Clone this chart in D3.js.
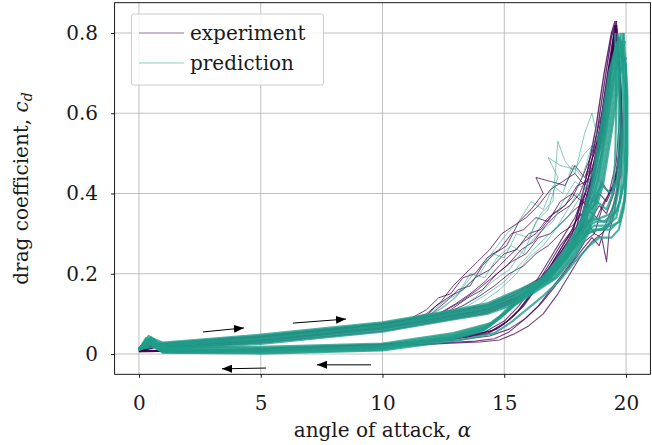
<!DOCTYPE html>
<html lang="en">
<head>
<meta charset="UTF-8">
<title>Drag coefficient hysteresis</title>
<style>
    body { margin: 0; background: #fff; }
    svg { display: block; font-family: "DejaVu Serif", serif; }
</style>
</head>
<body>
<svg id="chart" width="652" height="445"></svg>
<script src="https://cdn.jsdelivr.net/npm/d3@7/dist/d3.min.js"></script>
<script>
const xTicks = [0, 5, 10, 15, 20];
const yTicks = [0, 0.2, 0.4, 0.6, 0.8];

// measured cycles, [angle of attack, cd]
// attached upstrokes
const experimentUp = [
  [[0,.008],[0.5,.02],[1,.022],[5,.038],[10,.068],[12.9,.097],[14.3,.112],[15.6,.145],[16.7,.19],[17.4,.24],[18,.3],[18.5,.42],[18.9,.55],[19.2,.68],[19.45,.78],[19.6,.83]],
  [[0,.006],[0.4,.018],[1,.025],[5,.042],[10,.073],[12.9,.103],[14.3,.118],[15.6,.152],[16.6,.19],[17.3,.24],[17.9,.3],[18.4,.42],[18.8,.55],[19.15,.69],[19.4,.79],[19.55,.82]],
  [[0,.01],[0.5,.022],[1,.018],[5,.032],[10,.062],[12.9,.092],[14.3,.106],[15.6,.138],[16.8,.19],[17.5,.24],[18.1,.3],[18.6,.42],[19,.55],[19.3,.68],[19.5,.77],[19.62,.81]],
  [[0,.009],[0.4,.017],[1,.015],[5,.028],[10,.057],[12.9,.088],[14.3,.102],[15.6,.134],[16.9,.19],[17.6,.245],[18.2,.31],[18.65,.43],[19.05,.56],[19.35,.7],[19.55,.79],[19.65,.8]],
  [[0,.007],[0.6,.025],[1,.027],[5,.045],[10,.076],[12,.092],[12.9,.106],[14.3,.122],[15.6,.158],[16.5,.19],[17.2,.24],[17.8,.3],[18.3,.42],[18.75,.56],[19.1,.7],[19.4,.8],[19.55,.83]],
  [[0,.01],[0.5,.02],[1,.02],[5,.035],[10,.065],[12.9,.095],[14.3,.11],[15.6,.142],[16.75,.19],[17.45,.24],[18.05,.3],[18.55,.42],[18.95,.55],[19.25,.67],[19.5,.78],[19.6,.82]]
];
// upstrokes with early stall
const experimentStall = [
  [[0,.006],[1,.024],[5,.04],[10,.072],[11,.085],[11.8,.1],[12.4,.13],[12.9,.17],[13.4,.2],[13.9,.23],[14.4,.26],[14.9,.3],[15.4,.32],[15.9,.34],[16.4,.37],[16.9,.41],[17.4,.43],[17.9,.45],[18.3,.42],[18.7,.47],[19,.56],[19.3,.7],[19.55,.82]],
  [[0,.007],[1,.026],[5,.042],[10,.075],[11.2,.09],[11.8,.11],[12.3,.14],[12.8,.15],[13.3,.19],[13.8,.2],[14.3,.24],[14.8,.26],[15.3,.3],[15.8,.31],[16.3,.34],[16.8,.33],[17.3,.38],[17.8,.4],[18.2,.38],[18.6,.44],[19,.52],[19.3,.65],[19.5,.78],[19.65,.8]],
  [[0,.008],[1,.023],[5,.039],[10,.07],[11.5,.085],[12.3,.1],[13,.125],[13.6,.15],[14.2,.18],[14.8,.22],[15.3,.25],[15.8,.28],[16.3,.3],[16.8,.34],[17.3,.36],[17.8,.39],[18.2,.44],[18.6,.5],[19,.6],[19.3,.72],[19.55,.8]],
  [[0,.006],[1,.021],[5,.037],[10,.067],[11.3,.08],[12,.1],[12.6,.13],[13.1,.16],[13.6,.17],[14.1,.22],[14.6,.25],[15.1,.27],[15.6,.33],[16.1,.36],[16.6,.4],[16.3,.44],[16.9,.43],[17.5,.42],[17.9,.47],[18.3,.44],[18.7,.5],[19.1,.62],[19.4,.75],[19.6,.82]],
  [[0,.008],[1,.022],[5,.038],[10,.069],[11.6,.088],[12.5,.105],[13.2,.13],[13.9,.16],[14.5,.19],[15.1,.22],[15.7,.26],[16.2,.28],[16.7,.32],[17.2,.35],[17.7,.37],[18.1,.4],[18.5,.46],[18.9,.55],[19.2,.67],[19.5,.8]],
  [[0,.009],[1,.02],[5,.035],[10,.066],[12,.09],[12.8,.11],[13.5,.14],[14.1,.16],[14.7,.2],[15.3,.23],[15.9,.25],[16.4,.29],[16.9,.3],[17.4,.33],[17.9,.36],[18.3,.38],[18.7,.45],[19.05,.56],[19.35,.7],[19.55,.8]],
  [[0,.007],[1,.024],[5,.04],[10,.071],[11.8,.095],[12.2,.12],[12.8,.145],[13.3,.16],[13.8,.19],[14.4,.21],[15,.25],[15.5,.26],[16,.3],[16.5,.31],[17,.35],[17.5,.37],[18,.42],[18.4,.43],[18.8,.5],[19.2,.64],[19.45,.76],[19.6,.81]],
  [[0,.008],[1,.022],[5,.038],[10,.068],[12.5,.1],[13.3,.12],[14,.145],[14.6,.17],[15.2,.2],[15.8,.22],[16.3,.25],[16.8,.27],[17.3,.3],[17.8,.32],[18.2,.35],[18.6,.4],[19,.5],[19.3,.64],[19.55,.78]]
];
// downstrokes
const experimentDown = [
  [[19.6,.83],[19.75,.7],[19.8,.58],[19.7,.5],[19.5,.42],[19.2,.38],[18.9,.4],[18.6,.36],[18.2,.38],[17.8,.31],[17.3,.27],[16.8,.22],[16.2,.16],[15.6,.11],[15,.075],[14.3,.05],[13,.038],[11.5,.03],[10,.022],[5,.009],[2,.006],[0,.008]],
  [[19.55,.82],[19.7,.72],[19.75,.6],[19.6,.48],[19.3,.4],[19,.36],[18.7,.3],[18.4,.33],[18,.3],[17.5,.27],[16.9,.22],[16.3,.165],[15.7,.115],[15.1,.08],[14.3,.052],[13,.04],[11.5,.031],[10,.024],[5,.01],[2,.007],[0,.006]],
  [[19.6,.81],[19.8,.66],[19.85,.52],[19.7,.42],[19.5,.35],[19.3,.3],[19.2,.23],[19,.29],[18.7,.3],[18.3,.28],[17.9,.24],[17.4,.2],[16.9,.16],[16.4,.12],[15.8,.085],[15.2,.055],[14.6,.038],[13.8,.032],[12.5,.028],[11,.022],[9.5,.017],[5,.008],[1.5,.006],[0,.01]],
  [[19.65,.8],[19.8,.64],[19.75,.5],[19.5,.4],[19.2,.35],[18.9,.37],[18.5,.33],[18.1,.35],[17.7,.3],[17.2,.25],[16.6,.19],[16,.14],[15.4,.095],[14.7,.062],[13.5,.042],[12,.032],[10.5,.025],[5,.01],[2.5,.006],[0,.007]],
  [[19.5,.8],[19.65,.76],[19.8,.62],[19.8,.5],[19.6,.4],[19.3,.32],[19,.3],[18.6,.28],[18.2,.25],[17.7,.2],[17.2,.15],[16.6,.1],[16,.07],[15.4,.05],[14.8,.035],[14,.03],[12.8,.027],[11.3,.022],[9.5,.016],[5,.007],[1.5,.006],[0,.009]],
  [[19.55,.8],[19.7,.74],[19.8,.6],[19.7,.47],[19.4,.41],[19.1,.38],[18.8,.34],[18.4,.36],[18,.32],[17.5,.28],[17,.23],[16.4,.17],[15.8,.12],[15.2,.085],[14.5,.058],[13.2,.042],[11.7,.033],[10,.025],[5,.011],[2,.007],[0,.008]],
  [[19.62,.82],[19.75,.72],[19.85,.58],[19.8,.45],[19.55,.38],[19.2,.33],[18.9,.27],[18.6,.29],[18.2,.26],[17.7,.22],[17.1,.17],[16.5,.125],[15.9,.09],[15.2,.062],[14.4,.045],[13.3,.036],[12,.03],[10.5,.025],[9,.022],[7.5,.02],[5,.014],[3,.009],[1.5,.008],[0,.01]],
  [[19.6,.82],[19.75,.68],[19.8,.55],[19.6,.44],[19.3,.4],[19,.43],[18.7,.38],[18.3,.4],[17.9,.34],[17.4,.29],[16.8,.23],[16.2,.17],[15.6,.12],[15,.082],[14.2,.055],[12.8,.04],[11.2,.03],[9.5,.022],[5,.01],[1.5,.007],[0,.006]]
];

// model cycles, [angle of attack, cd]
const predictionUp = [
  [[0,.01],[0.4,.028],[1,.012],[5,.025],[10,.056],[12.9,.086],[14.3,.1],[15.6,.128],[17.15,.19],[17.85,.24],[18.45,.3],[19.05,.42],[19.45,.57],[19.75,.7],[20,.74]],
  [[0,.011],[0.3,.04],[1,.014],[5,.029],[10,.06],[12.9,.09],[14.3,.105],[15.6,.133],[17.08,.19],[17.78,.24],[18.38,.3],[18.98,.42],[19.38,.57],[19.68,.7],[19.95,.78]],
  [[0,.012],[0.5,.035],[1,.017],[5,.033],[10,.064],[12.9,.094],[14.3,.109],[15.6,.138],[17,.19],[17.7,.24],[18.3,.3],[18.9,.42],[19.3,.57],[19.6,.7],[19.9,.8]],
  [[0,.012],[0.4,.03],[1,.02],[5,.037],[10,.068],[12.9,.098],[14.3,.113],[15.6,.143],[16.9,.19],[17.6,.24],[18.2,.3],[18.8,.42],[19.2,.57],[19.5,.7],[19.8,.8]],
  [[0,.013],[0.6,.032],[1,.023],[5,.041],[10,.072],[12.9,.102],[14.3,.118],[15.6,.15],[16.82,.19],[17.52,.24],[18.12,.3],[18.72,.42],[19.12,.57],[19.42,.7],[19.72,.79]],
  [[0,.013],[0.3,.025],[1,.026],[5,.045],[10,.076],[12.9,.106],[14.3,.122],[15.6,.155],[16.75,.19],[17.45,.24],[18.05,.3],[18.65,.42],[19.05,.57],[19.35,.7],[19.65,.78]],
  [[0,.014],[0.5,.04],[1,.028],[5,.048],[10,.079],[12.9,.109],[14.3,.126],[15.6,.16],[16.68,.19],[17.38,.24],[17.98,.3],[18.58,.42],[18.98,.57],[19.3,.7],[19.6,.77]],
  [[0,.011],[0.4,.045],[0.8,.022],[5,.039],[10,.07],[12.9,.1],[14.3,.116],[15.6,.146],[16.95,.195],[17.65,.245],[18.25,.31],[18.85,.43],[19.25,.58],[19.55,.71],[19.85,.76]]
];
const predictionStall = [
  [[0,.012],[1,.02],[5,.037],[10,.068],[11.5,.086],[12.3,.11],[13,.14],[13.6,.19],[14.1,.22],[14.6,.26],[15.1,.3],[15.6,.33],[16.1,.38],[16.6,.36],[17,.42],[17.4,.4],[17.8,.47],[18.2,.44],[18.6,.52],[19,.55],[19.3,.66],[19.6,.76],[19.85,.78]],
  [[0,.013],[1,.021],[5,.038],[10,.07],[11.8,.09],[12.6,.12],[13.3,.16],[14,.2],[14.5,.25],[15,.24],[15.5,.3],[16,.29],[16.5,.35],[17,.38],[17.2,.53],[17.5,.48],[17.9,.45],[18.3,.55],[18.6,.6],[18.9,.52],[19.2,.6],[19.5,.72],[19.75,.78]],
  [[0,.012],[1,.02],[5,.036],[10,.067],[12,.088],[13,.11],[13.8,.14],[14.5,.18],[15.2,.21],[15.8,.26],[16.4,.3],[17,.33],[17.5,.39],[17.9,.43],[18.3,.41],[18.7,.46],[19.1,.55],[19.4,.66],[19.7,.76],[19.95,.79]],
  [[0,.012],[1,.02],[5,.037],[10,.069],[11.2,.085],[11.9,.1],[12.5,.13],[13.1,.15],[13.6,.2],[14.2,.19],[14.7,.24],[15.3,.27],[15.8,.25],[16.3,.33],[16.8,.36],[17.2,.44],[16.8,.49],[17.3,.47],[17.9,.46],[18.3,.5],[18.8,.53],[19.2,.62],[19.5,.74],[19.75,.8]],
  [[0,.012],[1,.02],[5,.037],[10,.068],[12.5,.095],[13.5,.12],[14.3,.15],[15,.18],[15.6,.22],[16.2,.26],[16.7,.29],[17.2,.32],[17.6,.36],[18,.4],[18.4,.38],[18.8,.45],[19.1,.53],[19.4,.64],[19.7,.74],[19.9,.8]],
  [[0,.012],[1,.02],[5,.037],[10,.068],[13,.1],[14,.125],[14.8,.16],[15.5,.2],[16,.24],[16.6,.27],[17.1,.31],[17.6,.34],[18,.38],[18.4,.42],[18.8,.48],[19.2,.58],[19.5,.7],[19.8,.78]]
];
const predictionDown = [
  [[19.8,.78],[20,.7],[20,.55],[19.9,.42],[19.6,.34],[19.2,.32],[18.7,.32],[18.2,.3],[17.6,.25],[17,.205],[16.3,.167],[15.6,.135],[15,.1],[14.3,.066],[12.9,.043],[10,.017],[5,.009],[1,.009],[0.5,.03],[0,.012]],
  [[19.6,.77],[19.7,.68],[19.7,.5],[19.6,.4],[19.4,.35],[19,.34],[18.5,.33],[18,.29],[17.45,.24],[16.85,.2],[16.15,.16],[15.45,.125],[14.85,.09],[14.15,.058],[12.9,.037],[10,.011],[5,.003],[1,.004],[0.4,.025],[0,.01]],
  [[19.9,.8],[20.05,.66],[20.05,.5],[19.95,.39],[19.7,.33],[19.35,.31],[18.85,.31],[18.35,.3],[17.75,.255],[17.15,.21],[16.45,.17],[15.75,.14],[15.15,.108],[14.45,.074],[12.9,.049],[10,.023],[5,.015],[1,.014],[0.6,.038],[0,.013]],
  [[19.55,.8],[19.6,.62],[19.55,.48],[19.45,.4],[19.2,.36],[18.8,.38],[18.4,.35],[17.9,.3],[17.3,.245],[16.7,.2],[16,.16],[15.3,.12],[14.7,.085],[14,.058],[12.9,.04],[10,.015],[5,.007],[1,.008],[0.3,.035],[0,.012]],
  [[19.85,.75],[20,.6],[20,.45],[19.9,.36],[19.7,.31],[19.4,.29],[18.9,.29],[18.5,.27],[17.9,.23],[17.3,.185],[16.6,.145],[15.9,.11],[15.3,.08],[14.6,.052],[13.2,.035],[10,.009],[5,.001],[1,.003],[0.5,.022],[0,.01]],
  [[19.8,.76],[20,.72],[20,.58],[19.95,.44],[19.65,.36],[19.25,.33],[18.75,.33],[18.25,.31],[17.65,.255],[17.05,.21],[16.35,.17],[15.65,.137],[15.05,.103],[14.35,.069],[12.9,.046],[10,.02],[5,.012],[1,.011],[0.4,.028],[0,.012]],
  [[19.65,.8],[19.75,.7],[19.8,.52],[19.7,.41],[19.5,.35],[19.1,.33],[18.6,.34],[18.1,.3],[17.5,.245],[16.9,.2],[16.2,.163],[15.5,.13],[14.9,.095],[14.2,.062],[12.9,.04],[10,.014],[5,.006],[1,.006],[0.7,.03],[0,.011]],
  [[19.85,.78],[20.05,.64],[20.05,.47],[19.95,.38],[19.75,.33],[19.4,.32],[18.9,.31],[18.4,.3],[17.8,.26],[17.2,.215],[16.5,.172],[15.8,.14],[15.2,.11],[14.5,.078],[12.9,.052],[10,.026],[5,.018],[1,.016],[0.5,.042],[0,.013]],
  [[19.8,.77],[19.9,.6],[19.85,.5],[19.7,.44],[19.4,.4],[19,.42],[18.6,.38],[18.2,.34],[17.7,.28],[17.1,.225],[16.4,.175],[15.7,.14],[15.1,.104],[14.4,.07],[12.9,.044],[10,.019],[5,.01],[1,.01],[0.4,.03],[0,.012]],
  [[19.75,.79],[19.95,.66],[19.9,.5],[19.75,.38],[19.4,.33],[19,.31],[18.5,.31],[18,.29],[17.4,.24],[16.8,.195],[16.1,.158],[15.4,.128],[14.8,.094],[14.1,.062],[12.9,.042],[10,.017],[5,.009],[1,.009],[0.6,.026],[0,.012]]
];

// direction arrows [x1, y1, x2, y2]
const arrows = [
  [2.63, 0.055, 4.31, 0.065],
  [6.32, 0.077, 8.5, 0.087],
  [5.22, -0.035, 3.41, -0.037],
  [9.53, -0.027, 7.31, -0.027]
];

const seriesNames = ['experiment', 'prediction'];
const seriesColors = ['#440154', '#1f9e89'];

const svg = d3.select('#chart');
const x = d3.scaleLinear().domain([-1, 21]).range([114.6, 650.4]);
const y = d3.scaleLinear().domain([-0.0506, 0.8755]).range([374.3, 2.7]);
const [x0, x1] = x.range();
const [y0, y1] = y.range();

svg.append('clipPath').attr('id', 'clip')
    .append('rect')
    .attr('x', x0).attr('y', y1)
    .attr('width', x1 - x0).attr('height', y0 - y1);

// grid
const grid = svg.append('g').attr('stroke', '#b0b0b0').attr('stroke-width', 0.8);
grid.selectAll('.gx').data(xTicks).enter().append('line')
    .attr('x1', d => x(d)).attr('x2', d => x(d))
    .attr('y1', y1).attr('y2', y0);
grid.selectAll('.gy').data(yTicks).enter().append('line')
    .attr('x1', x0).attr('x2', x1)
    .attr('y1', d => y(d)).attr('y2', d => y(d));

const line = d3.line().x(d => x(d[0])).y(d => y(d[1]));
const plot = svg.append('g').attr('clip-path', 'url(#clip)')
    .attr('fill', 'none').attr('stroke-linejoin', 'round');

function drawSet(data, color, opacity, width) {
    plot.append('g').selectAll('path').data(data).enter().append('path')
        .attr('d', line)
        .attr('stroke', color)
        .attr('stroke-opacity', opacity)
        .attr('stroke-width', width);
}

drawSet(experimentStall, seriesColors[0], 0.75, 1);
drawSet(experimentDown, seriesColors[0], 0.75, 1.1);
drawSet(experimentUp, seriesColors[0], 0.8, 1.4);
drawSet(predictionStall, seriesColors[1], 0.55, 1);
drawSet(predictionDown, seriesColors[1], 0.8, 2.1);
drawSet(predictionUp, seriesColors[1], 0.8, 2.3);

// arrows
svg.append('defs').append('marker')
    .attr('id', 'head')
    .attr('viewBox', '0 0 10 8')
    .attr('refX', 10).attr('refY', 4)
    .attr('markerWidth', 10).attr('markerHeight', 8)
    .attr('markerUnits', 'userSpaceOnUse')
    .attr('orient', 'auto')
    .append('path').attr('d', 'M0,0 L10,4 L0,8 Z').attr('fill', '#000');

svg.selectAll('.arrow').data(arrows).enter().append('line')
    .attr('x1', d => x(d[0])).attr('y1', d => y(d[1]))
    .attr('x2', d => x(d[2])).attr('y2', d => y(d[3]))
    .attr('stroke', '#000').attr('stroke-width', 1)
    .attr('marker-end', 'url(#head)');

// frame
svg.append('rect')
    .attr('x', x0).attr('y', y1)
    .attr('width', x1 - x0).attr('height', y0 - y1)
    .attr('fill', 'none').attr('stroke', '#000').attr('stroke-width', 0.9);

// axes
const xAxis = svg.append('g')
    .attr('transform', `translate(0,${y0})`)
    .call(d3.axisBottom(x).tickValues(xTicks).tickSize(3.5).tickPadding(18));
const yFmt = d => d === 0 ? '0' : d3.format('.1f')(d);
const yAxis = svg.append('g')
    .attr('transform', `translate(${x0},0)`)
    .call(d3.axisLeft(y).tickValues(yTicks).tickFormat(yFmt).tickSize(3.5).tickPadding(13));
[xAxis, yAxis].forEach(g => {
    g.select('.domain').remove();
    g.attr('font-family', '"DejaVu Serif", serif').attr('font-size', 20);
    g.selectAll('line').attr('stroke', '#000').attr('stroke-width', 0.9);
    g.selectAll('text').attr('fill', '#1a1a1a');
});

// axis labels
svg.append('text')
    .attr('x', (x0 + x1) / 2).attr('y', 437)
    .attr('text-anchor', 'middle')
    .attr('font-size', 20).attr('fill', '#1a1a1a')
    .html('angle of attack, <tspan font-style="italic">α</tspan>');

const yl = svg.append('text')
    .attr('transform', `translate(28,${(y0 + y1) / 2}) rotate(-90)`)
    .attr('text-anchor', 'middle')
    .attr('font-size', 20).attr('fill', '#1a1a1a');
yl.append('tspan').text('drag coefficient, ');
yl.append('tspan').attr('font-style', 'italic').text('c');
yl.append('tspan').attr('font-style', 'italic').attr('font-size', 14).attr('dy', 4).text('d');

// legend
const legend = svg.append('g');
legend.append('rect')
    .attr('x', 131.5).attr('y', 14).attr('width', 192).attr('height', 71)
    .attr('rx', 2)
    .attr('fill', '#fff').attr('fill-opacity', 0.8)
    .attr('stroke', '#cccccc').attr('stroke-width', 1);
seriesNames.forEach((name, i) => {
    const ly = 33 + i * 30;
    legend.append('line')
        .attr('x1', 139).attr('x2', 184).attr('y1', ly).attr('y2', ly)
        .attr('stroke', seriesColors[i]).attr('stroke-opacity', 0.35).attr('stroke-width', 1.3);
    legend.append('text')
        .attr('x', 190).attr('y', ly + 7)
        .attr('font-size', 20).attr('fill', '#1a1a1a')
        .text(name);
});
</script>
</body>
</html>
